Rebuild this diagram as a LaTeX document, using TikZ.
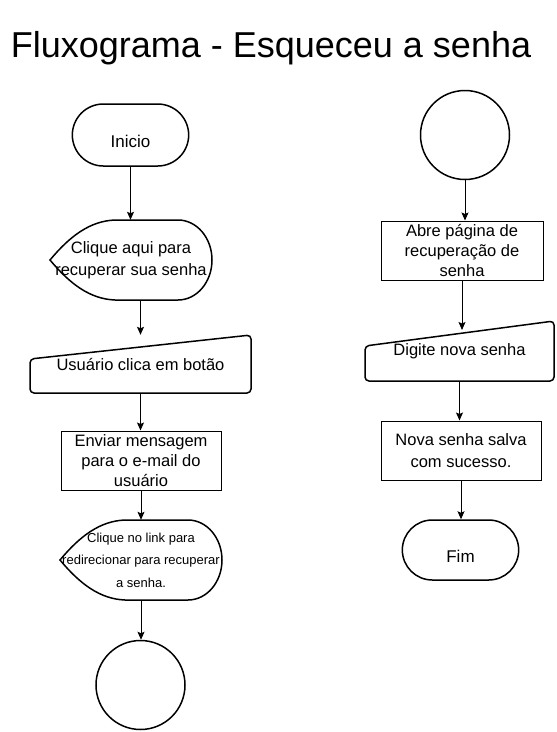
\documentclass[tikz,border=0pt]{standalone}
\usepackage{fontspec}
\setmainfont{Liberation Sans}
\usetikzlibrary{positioning}
\usetikzlibrary{shapes.misc}
\usetikzlibrary{arrows.meta}

\begin{document}
\begin{tikzpicture}[x=1pt, y=-1pt,
  term/.style={draw, rounded rectangle, line width=1.5pt, font=\fontsize{17}{20}\selectfont, text height=25pt, text depth=0pt},
  proc/.style={draw, line width=1pt, align=center, font=\fontsize{16.5}{20}\selectfont},
  conn/.style={draw, circle, line width=1.5pt, minimum size=89},
  shapetxt/.style={align=center, inner sep=0pt, font=\fontsize{16.5}{22}\selectfont},
  arrow/.style={-{Stealth[length=8pt, width=7pt, inset=1.5pt]}, line width=1pt}]

% Set the size of the figure
\useasboundingbox (0,0) rectangle (557,732);

% Title
\node[anchor=base, font=\fontsize{36}{40}\selectfont] (titulo) at (271,57) {Fluxograma - Esqueceu a senha};

% Left column
\node[term, minimum width=123, minimum height=62] (inicio) at (130.5,135) {Inicio};
\draw[line width=1.5pt] (50,260) .. controls (70,236) and (90,221) .. (115,220) -- (178,220)
  arc[start angle=90, end angle=-90, x radius=34pt, y radius=40pt]
  -- (115,300) .. controls (90,299) and (70,284) .. (50,260) -- cycle;
\node[shapetxt, minimum width=162, minimum height=80] (clique) at (131,260) {Clique aqui para\\recuperar sua senha};
\draw[line width=1.5pt, rounded corners=4pt] (30,393) -- (30,359) -- (251,335) -- (251,393) -- cycle;
\node[shapetxt, minimum width=221, minimum height=58] (clica) at (140.5,364) {Usuário clica em botão};
\node[proc, minimum width=160, minimum height=59] (envia) at (141,460.5) {Enviar mensagem\\para o e-mail do\\usuário};
\draw[line width=1.5pt] (60,560) .. controls (80,536) and (100,521) .. (125,520) -- (188,520)
  arc[start angle=90, end angle=-90, x radius=34pt, y radius=40pt]
  -- (125,600) .. controls (100,599) and (80,584) .. (60,560) -- cycle;
\node[shapetxt, minimum width=162, minimum height=80, font=\fontsize{13}{22.5}\selectfont] (link) at (141,560) {Clique no link para\\redirecionar para recuperar\\a senha.};
\node[conn] (fimA) at (140.5,685) {};

% Right column
\node[conn] (inicioB) at (465,135) {};
\node[proc, minimum width=162, minimum height=59] (abre) at (462,250.5) {Abre página de\\recuperação de\\senha};
\draw[line width=1.5pt, rounded corners=4pt] (365,381) -- (365,346) -- (554,321) -- (554,381) -- cycle;
\node[shapetxt, minimum width=189, minimum height=60] (digite) at (459.5,351) {Digite nova senha};
\coordinate (entra) at (462,330);
\node[proc, minimum width=160, minimum height=59, font=\fontsize{16.5}{22}\selectfont] (nova) at (461,450.5) {Nova senha salva\\com sucesso.};
\node[term, minimum width=123, minimum height=60] (fim) at (460.5,550) {Fim};

% Arrows
\draw[arrow] (inicio.south) -- (inicio.south |- clique.north);
\draw[arrow] (clique.south -| clica.north) -- (clica.north);
\draw[arrow] (clica.south) -- (clica.south |- envia.north);
\draw[arrow] (envia.south) -- (envia.south |- link.north);
\draw[arrow] (link.south) -- (link.south |- fimA.north);
\draw[arrow] (inicioB.south) -- (inicioB.south |- abre.north);
\draw[arrow] (abre.south) -- (entra);
\draw[arrow] (digite.south) -- (digite.south |- nova.north);
\draw[arrow] (nova.south) -- (nova.south |- fim.north);
\end{tikzpicture}
\end{document}
